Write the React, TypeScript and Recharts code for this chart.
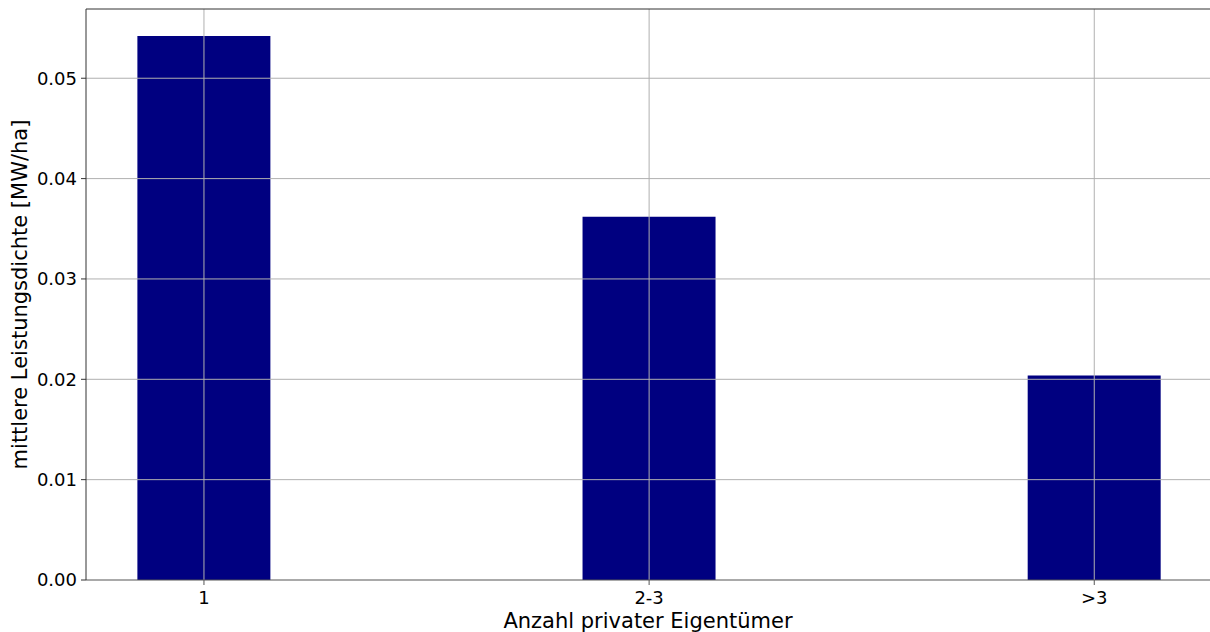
import { BarChart, Bar, XAxis, YAxis, ReferenceLine } from 'recharts';

const categories = ['1', '2-3', '>3'];
const density = [0.05421, 0.03619, 0.02039];
const yTicks = [0, 0.01, 0.02, 0.03, 0.04, 0.05];

const X_MIN = -0.265;
const X_MAX = 2.26;
const Y_MAX = 0.0569;

const data = categories.map((c, i) => ({ x: i, label: c, value: density[i] }));

const font = 'DejaVu Sans, sans-serif';
const gridColor = '#b0b0b0';

export default function App() {
  return (
    <div style={{ position: 'absolute', left: 0, top: 0, width: 1210, height: 632, background: '#fff' }}>
      <BarChart width={1210} height={632} data={data} margin={{ top: 9, right: 0, left: 0, bottom: 0 }}>
        <XAxis
          dataKey="x"
          type="number"
          domain={[X_MIN, X_MAX]}
          ticks={[0, 1, 2]}
          tickFormatter={(v: number) => categories[v]}
          height={52}
          stroke="#555"
          tickSize={5}
          tickMargin={6}
          tick={{ fontSize: 18, fill: '#000', fontFamily: font }}
          label={{ value: 'Anzahl privater Eigentümer', position: 'insideBottom', offset: 4, fontSize: 21, fill: '#000', fontFamily: font }}
        />
        <YAxis
          type="number"
          domain={[0, Y_MAX]}
          ticks={yTicks}
          tickFormatter={(v: number) => v.toFixed(2)}
          width={86}
          stroke="#333"
          tickSize={5}
          tickMargin={4}
          tick={{ fontSize: 18, fill: '#000', fontFamily: font }}
          label={{ value: 'mittlere Leistungsdichte [MW/ha]', angle: -90, position: 'insideLeft', offset: 20, style: { textAnchor: 'middle' }, fontSize: 21, fill: '#000', fontFamily: font }}
        />
        <Bar dataKey="value" fill="#000080" barSize={133} isAnimationActive={false} />
        {yTicks.slice(1).map((t) => (
          <ReferenceLine key={'y' + t} y={t} stroke={gridColor} strokeWidth={1} />
        ))}
        {data.map((d) => (
          <ReferenceLine key={'x' + d.x} x={d.x} stroke={gridColor} strokeWidth={1} />
        ))}
        <ReferenceLine y={Y_MAX} stroke="#333" strokeWidth={1} />
      </BarChart>
    </div>
  );
}
